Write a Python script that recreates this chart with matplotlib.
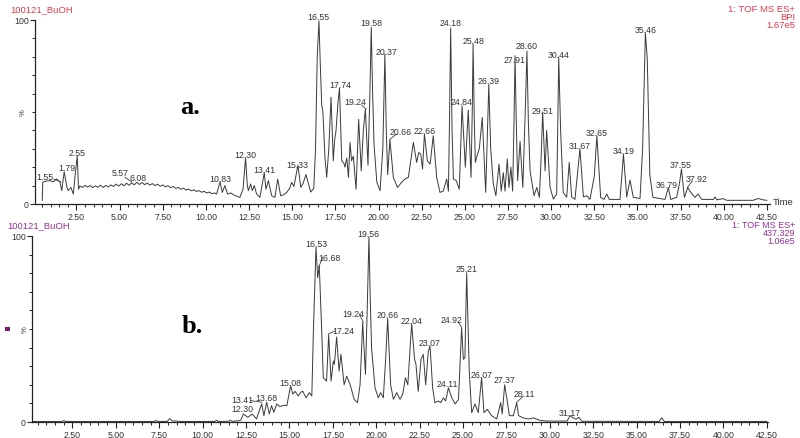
import matplotlib
matplotlib.use("Agg")
import matplotlib.pyplot as plt
from matplotlib.ticker import MultipleLocator, FixedLocator, FormatStrFormatter

plt.rcParams['font.family'] = ['Liberation Sans', 'DejaVu Sans']

# ---------------- data: panel a (BPI) ----------------
a_time = [0.52, 0.55, 0.75, 0.97, 1.15, 1.36, 1.55, 1.65, 1.79, 1.95, 2.03, 2.18, 2.32, 2.45, 2.55, 2.62,
          2.70, 2.85, 3.00, 3.15, 3.30, 3.45, 3.60, 3.75, 3.90, 4.05, 4.20, 4.35, 4.50, 4.65, 4.80, 4.95,
          5.10, 5.25, 5.40, 5.55, 5.70, 5.85, 6.00, 6.15, 6.30, 6.45, 6.60, 6.75, 6.90, 7.05, 7.20, 7.35,
          7.50, 7.65, 7.80, 7.95, 8.10, 8.25, 8.40, 8.55, 8.70, 8.85, 9.00, 9.15, 9.30, 9.45, 9.60, 9.75,
          9.90, 10.05, 10.20, 10.35, 10.50,
          10.62, 10.82, 10.95, 11.10, 11.26, 11.45, 11.59, 11.80, 11.97, 12.15, 12.30, 12.40, 12.46, 12.59,
          12.69, 12.80, 12.94, 13.13, 13.38, 13.48, 13.62, 13.81, 14.00, 14.16, 14.33, 14.50, 14.68, 14.85,
          14.97, 15.10, 15.33, 15.50, 15.62, 15.80, 16.07, 16.25, 16.35, 16.45, 16.55, 16.63, 16.71, 16.78,
          16.90, 17.00, 17.12, 17.25, 17.38, 17.46, 17.54, 17.65, 17.74, 17.87, 18.00, 18.06, 18.16, 18.26,
          18.35, 18.44, 18.54, 18.70, 18.85, 19.00, 19.12, 19.24, 19.39, 19.50, 19.58, 19.66, 19.74, 19.90,
          20.09, 20.25, 20.37, 20.45, 20.53, 20.66, 20.86, 21.10, 21.34, 21.53, 21.73, 22.02, 22.21, 22.33,
          22.45, 22.55, 22.66, 22.83, 22.99, 23.17, 23.37, 23.56, 23.75, 23.95, 24.05, 24.12, 24.18, 24.26,
          24.34, 24.50, 24.68, 24.84, 25.03, 25.20, 25.36, 25.43, 25.48, 25.55, 25.61, 25.73, 25.84, 26.01,
          26.21, 26.30, 26.39, 26.50, 26.65, 26.80, 26.98, 27.11, 27.23, 27.33, 27.46, 27.56, 27.67, 27.77,
          27.85, 27.91, 27.98, 28.06, 28.20, 28.36, 28.50, 28.60, 28.68, 28.78, 29.01, 29.17, 29.32, 29.42,
          29.51, 29.65, 29.74, 29.94, 30.13, 30.32, 30.38, 30.44, 30.55, 30.70, 30.90, 31.05, 31.19, 31.38,
          31.67, 31.87, 32.06, 32.25, 32.50, 32.65, 32.87, 33.06, 33.22, 33.37, 33.99, 34.19, 34.38, 34.57,
          34.76, 35.15, 35.30, 35.46, 35.57, 35.72, 35.90, 36.60, 36.79, 36.93, 37.27, 37.45, 37.55, 37.72,
          37.92, 38.04, 38.33, 38.52, 38.72, 39.40, 39.50, 39.60, 39.98, 40.18, 41.70, 42.00, 42.30, 42.50]
a_pct = [2.0, 11.8, 12.5, 12.7, 12.0, 13.6, 11.8, 7.3, 17.5, 9.0, 7.3, 9.0, 5.4, 18.0, 26.0, 8.0,
         9.8, 9.0, 10.1, 9.2, 10.0, 8.9, 9.9, 9.1, 10.2, 9.0, 10.1, 9.3, 10.4, 9.5, 10.8, 9.7,
         11.0, 9.9, 11.3, 10.2, 11.5, 10.4, 11.8, 10.6, 11.7, 10.5, 11.4, 10.3, 11.1, 10.0, 10.8, 9.6,
         10.4, 9.3, 10.0, 8.9, 9.5, 8.5, 9.0, 8.0, 8.6, 7.6, 8.1, 7.2, 7.7, 6.8, 7.3, 6.4,
         6.9, 6.0, 6.5, 5.6, 6.0,
         5.4, 12.0, 6.3, 10.0, 5.4, 6.0, 5.0, 4.2, 3.6, 8.0, 25.0, 10.0, 7.3, 10.9,
         7.3, 10.0, 5.4, 3.6, 17.0, 8.0, 12.7, 4.5, 3.6, 13.6, 4.5, 5.0, 6.3, 8.5,
         11.8, 9.5, 21.0, 9.0, 11.0, 16.0, 6.5, 8.5, 30.0, 80.0, 99.5, 75.0, 54.0, 50.0,
         25.0, 14.5, 30.0, 58.0, 23.5, 35.0, 40.0, 55.0, 63.0, 23.5, 22.0, 20.0, 25.0, 14.5,
         33.5, 23.5, 26.0, 8.0, 46.0, 18.0, 40.0, 51.6, 21.0, 60.0, 96.0, 60.0, 32.6, 12.0,
         7.2, 30.0, 81.5, 40.0, 16.0, 35.0, 14.5, 9.0, 11.8, 13.6, 14.5, 33.5, 22.6, 28.0,
         27.0, 19.0, 38.0, 23.5, 21.7, 37.0, 14.5, 6.3, 7.0, 13.6, 7.0, 50.0, 95.6, 40.0,
         13.6, 12.7, 8.0, 53.4, 20.0, 51.0, 14.5, 50.0, 87.0, 45.0, 22.6, 27.0, 30.0, 47.0,
         6.3, 35.0, 65.0, 30.0, 11.0, 4.5, 21.7, 7.0, 17.0, 7.0, 24.4, 9.0, 20.0, 7.0,
         45.0, 80.6, 45.0, 12.7, 34.0, 9.0, 50.0, 83.0, 45.0, 18.0, 4.5, 9.0, 3.6, 25.0,
         50.0, 18.0, 40.0, 9.0, 2.7, 5.4, 40.0, 79.7, 40.0, 6.3, 3.6, 22.6, 3.8, 2.5,
         30.0, 3.8, 4.5, 2.5, 15.0, 37.0, 3.6, 2.5, 5.4, 2.5, 2.5, 27.0, 3.8, 13.0,
         3.6, 3.0, 30.0, 93.0, 79.0, 15.5, 3.6, 2.5, 9.0, 2.5, 3.6, 12.0, 19.0, 3.6,
         9.0, 7.0, 3.6, 5.4, 2.5, 2.5, 3.8, 2.3, 2.9, 2.0, 2.0, 3.0, 2.2, 2.0]

a_labels = ["1.55", "1.79", "2.55", "5.57", "6.08", "10.83", "12.30", "13.41", "15.33", "16.55",
            "17.74", "19.24", "19.58", "20.37", "20.66", "22.66", "24.18", "24.84", "25.48", "26.39",
            "27.91", "28.60", "29.51", "30.44", "31.67", "32.65", "34.19", "35.46", "36.79", "37.55", "37.92"]

# ---------------- data: panel b (m/z 437.329) ----------------
b_time = [0.20, 1.90, 2.00, 2.10, 7.20, 7.30, 7.40, 7.95, 8.10, 8.25, 8.50, 8.70, 10.70, 10.80, 10.90,
          11.50, 11.60, 11.70, 12.05, 12.20, 12.35, 12.60, 12.86, 13.10, 13.40, 13.53, 13.69, 13.84, 13.97,
          14.10, 14.27, 14.46, 14.65, 14.85, 15.07, 15.19, 15.32, 15.51, 15.65, 15.77, 15.96, 16.15, 16.29,
          16.38, 16.53, 16.63, 16.72, 16.86, 16.95, 17.14, 17.26, 17.40, 17.53, 17.59, 17.72, 17.86, 17.97,
          18.15, 18.30, 18.50, 18.73, 18.92, 19.07, 19.22, 19.38, 19.48, 19.58, 19.66, 19.73, 19.93, 20.12,
          20.25, 20.41, 20.55, 20.66, 20.83, 20.99, 21.18, 21.37, 21.53, 21.68, 21.82, 22.04, 22.21, 22.29,
          22.42, 22.58, 22.71, 22.85, 23.00, 23.10, 23.25, 23.38, 23.58, 23.71, 23.87, 24.00, 24.16, 24.35,
          24.55, 24.74, 24.85, 24.92, 25.02, 25.11, 25.21, 25.36, 25.50, 25.69, 25.88, 26.07, 26.21, 26.40,
          26.65, 26.94, 27.17, 27.26, 27.40, 27.52, 27.67, 27.90, 28.09, 28.20, 28.47, 28.76, 29.05, 29.43,
          29.82, 30.55, 31.00, 31.16, 31.35, 31.50, 31.67, 31.85, 36.30, 36.44, 36.60, 42.50]
b_pct = [0.3, 0.3, 0.8, 0.3, 0.3, 0.8, 0.3, 0.3, 1.8, 0.6, 0.5, 0.3, 0.3, 0.9, 0.3,
         0.4, 1.0, 0.4, 0.6, 1.0, 4.3, 2.5, 4.3, 1.6, 9.7, 3.4, 10.6, 4.3, 8.8,
         5.2, 9.7, 8.2, 9.0, 8.8, 19.5, 15.0, 16.5, 14.0, 16.0, 16.5, 13.0, 15.8, 14.0,
         49.0, 94.0, 77.6, 84.0, 49.0, 23.8, 22.0, 47.0, 22.0, 32.8, 31.0, 45.7, 27.4, 36.4,
         20.0, 24.7, 20.0, 12.2, 10.4, 20.0, 53.4, 25.6, 60.0, 99.5, 65.0, 40.0, 18.4, 13.0,
         15.8, 13.0, 35.0, 55.7, 20.0, 12.2, 15.8, 12.2, 15.0, 23.8, 20.0, 52.9, 33.7, 31.0,
         16.5, 33.7, 36.4, 20.0, 38.0, 40.9, 18.4, 10.4, 11.3, 10.4, 13.0, 11.3, 18.4, 13.0,
         9.7, 12.2, 35.0, 50.7, 33.7, 34.5, 80.3, 27.4, 5.0, 9.7, 5.0, 23.8, 5.0, 6.8,
         3.4, 1.6, 10.4, 4.3, 20.0, 13.0, 3.4, 3.4, 10.4, 3.4, 2.2, 1.6, 2.2, 0.9,
         0.5, 0.5, 0.5, 3.4, 2.2, 1.5, 2.5, 0.4, 0.3, 2.2, 0.3, 0.3]

b_labels = ["12.30", "13.41", "13.68", "15.08", "16.53", "16.68", "17.24", "19.24", "19.56", "20.66",
            "22.04", "23.07", "24.11", "24.92", "25.21", "26.07", "27.37", "28.11", "31.17"]

x_ticks = [2.5, 5.0, 7.5, 10.0, 12.5, 15.0, 17.5, 20.0, 22.5, 25.0, 27.5, 30.0, 32.5, 35.0, 37.5, 40.0, 42.5]

# ---------------- layout (label positions: x, y of text centre; optional leader) ----------------
a_label_pos = [(0.68, 14.8), (1.93, 19.6), (2.55, 28.0), (5.02, 17.0), (6.08, 14.5), (10.82, 13.6),
               (12.30, 26.8), (13.38, 18.6), (15.32, 21.4), (16.51, 101.8), (17.77, 65.0), (18.64, 55.6),
               (19.57, 98.5), (20.47, 83.0), (21.28, 39.5), (22.66, 39.9), (24.18, 98.4), (24.82, 55.6),
               (25.49, 89.0), (26.37, 67.0), (27.91, 78.8), (28.58, 86.0), (29.51, 51.0), (30.46, 81.0),
               (31.67, 32.0), (32.64, 38.6), (34.18, 29.0), (35.50, 94.7), (36.70, 10.5), (37.51, 21.4),
               (38.44, 14.0)]
a_leaders = [((1.20, 13.5), (1.60, 12.0)), ((5.31, 14.5), (5.70, 12.1)), ((19.03, 53.8), (19.27, 51.6)),
             ((20.67, 35.3), (21.05, 38.0)), ((37.89, 9.0), (38.15, 12.1))]

b_label_pos = [(12.31, 7.0), (12.31, 12.0), (13.69, 13.3), (15.07, 21.3), (16.57, 96.0), (17.30, 88.5),
               (18.10, 49.0), (18.68, 58.4), (19.55, 101.6), (20.66, 58.0), (22.04, 54.8), (23.10, 42.8),
               (24.10, 20.8), (24.31, 55.2), (25.21, 82.3), (26.08, 25.8), (27.38, 23.0), (28.51, 15.4),
               (31.16, 5.2)]
b_leaders = [((12.77, 11.5), (13.40, 10.6)), ((16.67, 83.0), (16.92, 88.5)), ((17.24, 47.3), (17.63, 49.0)),
             ((19.03, 58.0), (19.26, 53.6)), ((24.73, 53.6), (24.92, 50.9)), ((28.09, 10.6), (28.44, 13.6))]

W, H = 800, 439
fig = plt.figure(figsize=(W / 100, H / 100), dpi=100)

red = '#e23a48'
purple = '#97309a'
line_col = '#3a3a3a'
txt_col = '#333333'
fs = 6.3


def setup(ax, xlim):
    ax.set_xlim(*xlim)
    ax.set_ylim(0, 100)
    for s in ('top', 'right'):
        ax.spines[s].set_visible(False)
    for s in ('left', 'bottom'):
        ax.spines[s].set_linewidth(0.9)
        ax.spines[s].set_color('#222222')
    ax.xaxis.set_major_locator(FixedLocator(x_ticks))
    ax.xaxis.set_major_formatter(FormatStrFormatter('%.2f'))
    ax.xaxis.set_minor_locator(MultipleLocator(0.5))
    ax.yaxis.set_major_locator(FixedLocator([0, 100]))
    ax.yaxis.set_major_formatter(FormatStrFormatter('%d'))
    ax.yaxis.set_minor_locator(MultipleLocator(10))
    ax.tick_params(axis='x', which='major', length=4, width=0.8, labelsize=fs, pad=1.5,
                   colors='#222222', labelcolor=txt_col)
    ax.tick_params(axis='x', which='minor', length=2.5, width=0.7, colors='#222222')
    ax.tick_params(axis='y', which='major', length=3.5, width=0.8, labelsize=fs, pad=1,
                   colors='#222222', labelcolor=txt_col)
    ax.tick_params(axis='y', which='minor', length=2, width=0.7, colors='#222222')
    ax.patch.set_alpha(0)


# ---- panel a ----
ax1 = fig.add_axes([35 / W, 1 - 205 / H, 735 / W, 184 / H])
setup(ax1, (0.1, 42.68))
ax1.plot(a_time, a_pct, color=line_col, lw=0.7)
for lab, (x, y) in zip(a_labels, a_label_pos):
    ax1.text(x, y, lab, fontsize=fs, ha='center', va='center', color=txt_col, clip_on=False)
for (p0, p1) in a_leaders:
    ax1.plot([p0[0], p1[0]], [p0[1], p1[1]], color=line_col, lw=0.6, clip_on=False)
ax1.text(-0.6, 50, '%', fontsize=5.5, rotation=90, ha='center', va='center', color=txt_col)
ax1.text(9.1, 53, 'a.', fontsize=19, fontweight='bold', family='Liberation Serif',
         ha='center', va='center', color='black')
ax1.text(42.85, 1.5, 'Time', fontsize=fs + 0.5, ha='left', va='center', color=txt_col, clip_on=False)

fig.text(10 / W, 1 - 10 / H, '100121_BuOH', fontsize=6.8, color=red, ha='left', va='center')
fig.text(795 / W, 1 - 10 / H, '1: TOF MS ES+', fontsize=6.8, color=red, ha='right', va='center')
fig.text(795 / W, 1 - 17.5 / H, 'BPI', fontsize=6.8, color=red, ha='right', va='center')
fig.text(795 / W, 1 - 25 / H, '1.67e5', fontsize=6.8, color=red, ha='right', va='center')

# ---- panel b ----
ax2 = fig.add_axes([32 / W, 1 - 423 / H, 736 / W, 186 / H])
setup(ax2, (0.17, 42.57))
ax2.plot(b_time, b_pct, color=line_col, lw=0.7)
for lab, (x, y) in zip(b_labels, b_label_pos):
    ax2.text(x, y, lab, fontsize=fs, ha='center', va='center', color=txt_col, clip_on=False)
for (p0, p1) in b_leaders:
    ax2.plot([p0[0], p1[0]], [p0[1], p1[1]], color=line_col, lw=0.6, clip_on=False)
ax2.text(-0.2, 50, '%', fontsize=5.5, rotation=90, ha='center', va='center', color=txt_col)
ax2.text(9.4, 52, 'b.', fontsize=19, fontweight='bold', family='Liberation Serif',
         ha='center', va='center', color='black')

fig.text(7 / W, 1 - 226 / H, '100121_BuOH', fontsize=6.8, color=purple, ha='left', va='center')
fig.text(795 / W, 1 - 225 / H, '1: TOF MS ES+', fontsize=6.5, color=purple, ha='right', va='center')
fig.text(795 / W, 1 - 233.5 / H, '437.329', fontsize=6.5, color=purple, ha='right', va='center')
fig.text(795 / W, 1 - 242 / H, '1.06e5', fontsize=6.5, color=purple, ha='right', va='center')
fig.patches.append(plt.Rectangle((5 / W, 1 - 332 / H), 5 / W, 4 / H, transform=fig.transFigure,
                                 facecolor='#7a1a7e', edgecolor='none'))

fig.savefig('out.png', dpi=100)
